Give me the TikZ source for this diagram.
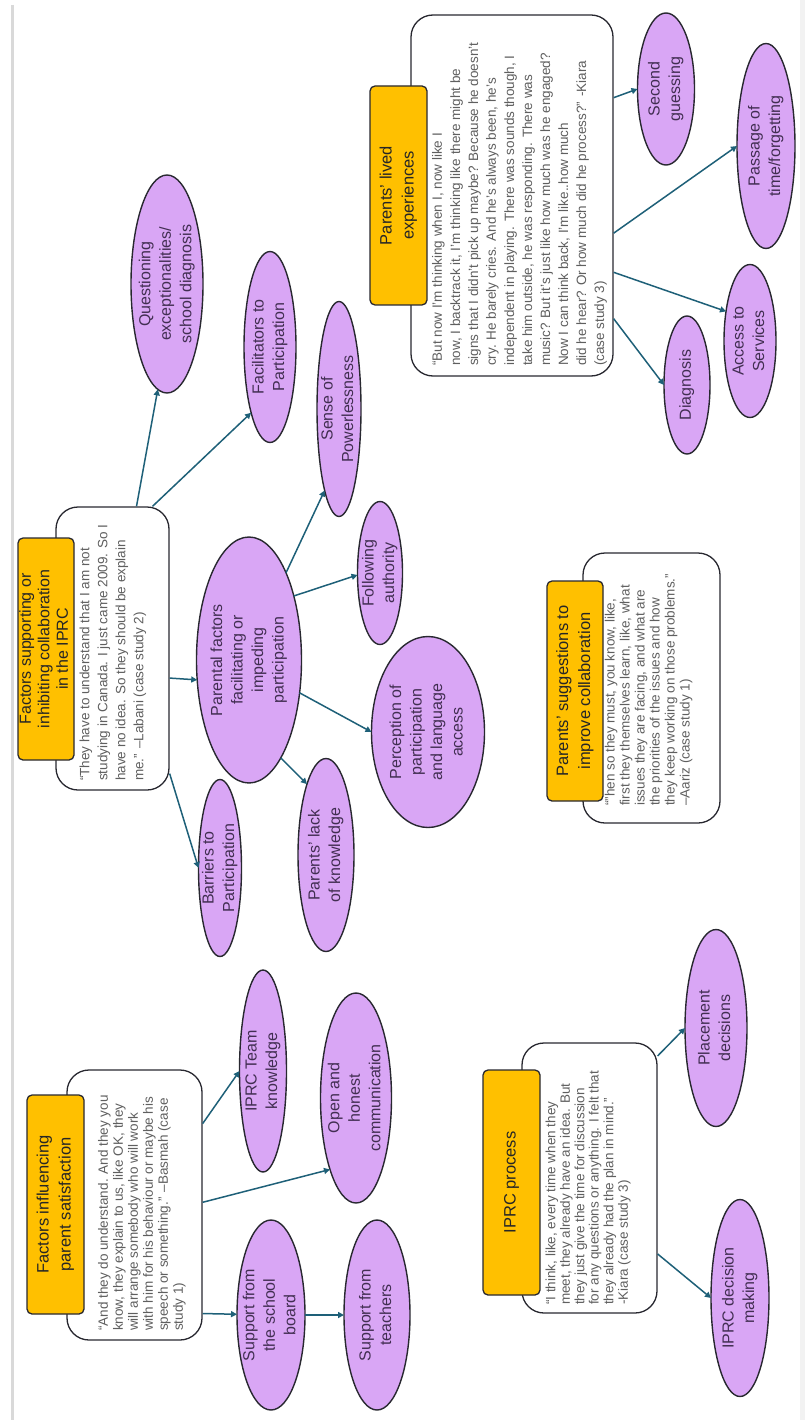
\documentclass[tikz,border=0pt]{standalone}
\usepackage{fontspec}
\setmainfont{Liberation Sans}
\usetikzlibrary{shapes.geometric,arrows.meta,calc}
\definecolor{ellc}{RGB}{217,166,245}
\definecolor{orc}{RGB}{255,192,0}
\definecolor{bordc}{RGB}{40,40,48}
\definecolor{arrc}{RGB}{30,96,120}
\definecolor{qc}{RGB}{95,95,95}
\definecolor{ellt}{RGB}{66,46,82}
\definecolor{ttlc}{RGB}{38,38,38}
\newcommand{\zc}[1]{\makebox[0pt]{\raisebox{-0.25em}[0pt][0pt]{\begin{tabular}{@{}c@{}}#1\end{tabular}}}}
\tikzset{
  ell/.style={ellipse, draw=bordc, line width=1.4pt, fill=ellc, inner sep=0pt, outer sep=0pt,
    rotate=90, text=ellt, font=\fontsize{16}{20.5}\selectfont},
  ttl/.style={rectangle, rounded corners=5, draw=bordc, line width=1.3pt, fill=orc, inner sep=0pt,
    rotate=90, text=ttlc, font=\fontsize{16.5}{22}\selectfont},
  qbox/.style={rectangle, rounded corners=22, draw=bordc, line width=1.3pt, fill=white, inner sep=0pt, rotate=90},
  qtxt/.style={rotate=90, anchor=west, align=left, inner sep=0pt, text=qc, font=\fontsize{13.5}{18}\selectfont},
  arr/.style={draw=arrc, line width=1.5pt, -{Triangle[length=6pt,width=6pt]}}
}
\begin{document}
\begin{tikzpicture}[x=1pt,y=-1pt]
\useasboundingbox (0,0) rectangle (805,1420);
\fill[white] (0,0) rectangle (805,1420);
\fill[gray!10] (800,0) rectangle (805,1420);
\draw[gray!30, line width=3pt] (12,5) -- (12,1420);

% quote boxes
\node[qbox, minimum width=361, minimum height=202] (q_liv) at (512,195.5) {};
\node[qbox, minimum width=283, minimum height=113] (q_lab) at (112.5,648.5) {};
\node[qbox, minimum width=270, minimum height=135] (q_bas) at (134.5,1205) {};
\node[qbox, minimum width=270, minimum height=137] (q_sug) at (651.5,688) {};
\node[qbox, minimum width=270, minimum height=135] (q_iprc) at (589.5,1178) {};

% titles
\node[ttl, minimum width=219, minimum height=57] (o_liv) at (398.5,195.5) {\zc{Parents’ lived\\experiences}};
\node[ttl, minimum width=222, minimum height=56, font=\fontsize{16}{18.5}\selectfont] (o_lab) at (46,649) {\zc{Factors supporting or\\inhibiting collaboration\\in the IPRC}};
\node[ttl, minimum width=219, minimum height=57] (o_bas) at (55.5,1204.5) {\zc{Factors influencing\\parent satisfaction}};
\node[ttl, minimum width=220, minimum height=56] (o_sug) at (575,691) {\zc{Parents’ suggestions to\\improve collaboration}};
\node[ttl, minimum width=225, minimum height=57] (o_iprc) at (511.5,1182.5) {\zc{IPRC process}};

% quote texts
\node[qtxt] (t_liv) at (519.5,366) {“But now I’m thinking when I, now like I\\now, I backtrack it, I’m thinking like there might be\\signs that I didn’t pick up maybe? Because he doesn’t\\cry. He barely cries. And he’s always been, he’s\\independent in playing. There was sounds though, I\\take him outside, he was responding. There was\\music? But it’s just like how much was he engaged?\\Now I can think back, I’m like..how much\\did he hear? Or how much did he process?” -Kiara\\(case study 3)};
\node[qtxt] (t_lab) at (113,781) {“They have to understand that I am not\\studying in Canada. I just came 2009. So I\\have no idea. So they should be explain\\me.” –Labani (case study 2)};
\node[qtxt, font=\fontsize{13.5}{15}\selectfont] (t_bas) at (142,1331) {“And they do understand. And they you\\know, they explain to us, like OK, they\\will arrange somebody who will work\\with him for his behaviour or maybe his\\speech or something.” –Basmah (case\\study 1)};
\node[qtxt, font=\fontsize{13.5}{15}\selectfont] (t_sug) at (648.5,806) {“”hen so they must, you know, like,\\first they themselves learn, like, what\\issues they are facing, and what are\\the priorities of the issues and how\\they keep working on those problems.”\\–Aariz (case study 1)};
\node[qtxt, font=\fontsize{13.5}{14.5}\selectfont] (t_iprc) at (588,1305) {“I think, like, every time when they\\meet, they already have an idea. But\\they just give the time for discussion\\for any questions or anything. I felt that\\they already had the plan in mind.”\\-Kiara (case study 3)};

% ellipses
\node[ell, minimum width=218, minimum height=72] (e_q) at (167,284) {\zc{Questioning\\exceptionalities/\\school diagnosis}};
\node[ell, minimum width=191, minimum height=52] (e_fac) at (270,347) {\zc{Facilitators to\\Participation}};
\node[ell, minimum width=215, minimum height=44] (e_pow) at (339,409) {\zc{Sense of\\Powerlessness}};
\node[ell, minimum width=246, minimum height=105] (e_par) at (249,660) {\zc{Parental factors\\facilitating or\\impeding\\participation}};
\node[ell, minimum width=143, minimum height=45] (e_fol) at (380,573) {\zc{Following\\authority}};
\node[ell, minimum width=191, minimum height=113] (e_per) at (428,732) {\zc{Perception of\\participation\\and language\\access}};
\node[ell, minimum width=177, minimum height=43] (e_bar) at (220,868) {\zc{Barriers to\\Participation}};
\node[ell, minimum width=193, minimum height=56] (e_lack) at (326,855) {\zc{Parents’ lack\\of knowledge}};
\node[ell, minimum width=202, minimum height=47] (e_team) at (263,1071) {\zc{IPRC Team\\knowledge}};
\node[ell, minimum width=210, minimum height=71] (e_open) at (356,1098) {\zc{Open and\\honest\\communication}};
\node[ell, minimum width=190, minimum height=68] (e_board) at (271,1315) {\zc{Support from\\the school\\board}};
\node[ell, minimum width=190, minimum height=66] (e_teach) at (377,1315) {\zc{Support from\\teachers}};
\node[ell, minimum width=197, minimum height=62] (e_place) at (716,1028) {\zc{Placement\\decisions}};
\node[ell, minimum width=197, minimum height=58] (e_dec) at (740,1298) {\zc{IPRC decision\\making}};
\node[ell, minimum width=152, minimum height=57] (e_sec) at (666,89) {\zc{Second\\guessing}};
\node[ell, minimum width=205, minimum height=58] (e_pass) at (766,146) {\zc{Passage of\\time/forgetting}};
\node[ell, minimum width=153, minimum height=52] (e_acc) at (750,341) {\zc{Access to\\Services}};
\node[ell, minimum width=138, minimum height=46] (e_diag) at (687,385) {\zc{Diagnosis}};

% connectors
\draw[arr] ($(q_liv.south west)!0.77!(q_liv.south east)$) -- (e_sec.north);
\draw[arr] ($(q_liv.south west)!0.396!(q_liv.south east)$) -- (e_pass.north);
\draw[arr] ($(q_liv.south west)!0.288!(q_liv.south east)$) -- (e_acc.39);
\draw[arr] ($(q_liv.south west)!0.16!(q_liv.south east)$) -- (e_diag.north);

\draw[arr] ($(q_lab.north east)!0.71!(q_lab.south east)$) -- (e_q.175);
\draw[arr] ($(q_lab.north east)!0.85!(q_lab.south east)$) -- (e_fac.164);
\draw[arr] ($(q_lab.south west)!0.396!(q_lab.south east)$) -- (e_par.111);
\draw[arr] ($(q_lab.south west)!0.06!(q_lab.south east)$) -- (e_bar.north);

\draw[arr] (e_par.-23) -- (e_pow.170);
\draw[arr] (e_par.-35) -- (e_fol.95);
\draw[arr] (e_par.237) -- (e_per.north);
\draw[arr] (e_par.198) -- (e_lack.15);

\draw[arr] ($(q_bas.south west)!0.80!(q_bas.south east)$) -- (e_team.north);
\draw[arr] ($(q_bas.south west)!0.51!(q_bas.south east)$) -- (e_open.160);
\draw[arr] ($(q_bas.south west)!0.10!(q_bas.south east)$) -- (e_board);
\draw[arr] (e_board) -- (e_teach);

\draw[arr] ($(q_iprc.south west)!0.95!(q_iprc.south east)$) -- (e_place.north);
\draw[arr] ($(q_iprc.south west)!0.22!(q_iprc.south east)$) -- (e_dec.north);
\end{tikzpicture}
\end{document}
